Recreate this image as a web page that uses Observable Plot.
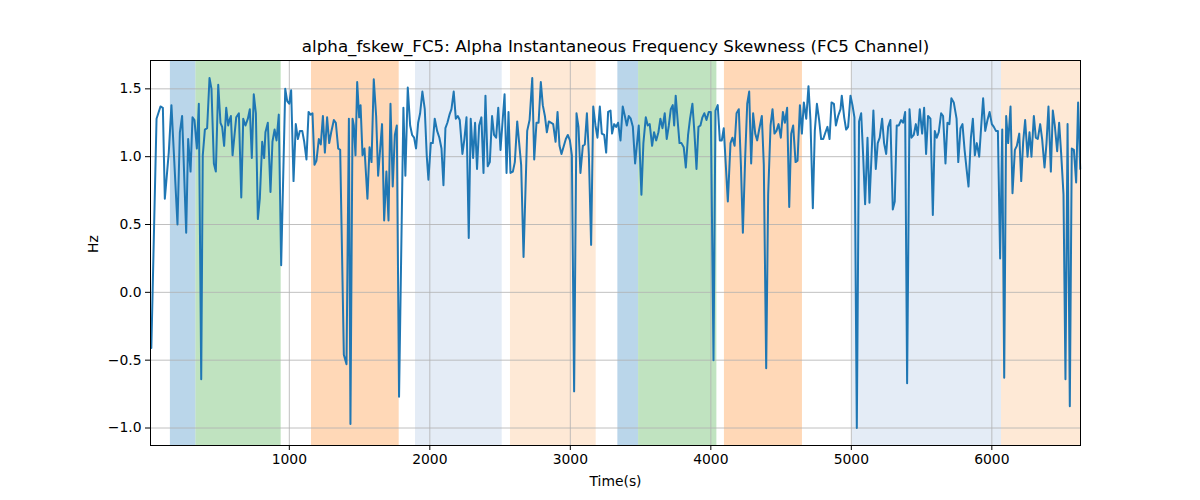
<!DOCTYPE html>
<html>
<head>
<meta charset="utf-8">
<script src="https://cdn.jsdelivr.net/npm/d3@7"></script>
<script src="https://cdn.jsdelivr.net/npm/@observablehq/plot@0.6"></script>
<style>
  body { margin: 0; background: white; }
</style>
</head>
<body>
<div id="grafico"></div>
<script>
// tiempos (s)
const time = [
  18, 55, 83, 100, 114, 142, 161, 204, 221, 237, 266, 280, 297, 311, 325,
  342, 356, 373, 384, 399, 415, 432, 446, 463, 477, 494, 510, 522, 536, 551,
  565, 574, 584, 596, 622, 641, 658, 672, 688, 705, 719, 733, 747, 762, 776,
  790, 807, 821, 830,
  847, 866, 880, 895, 909, 925, 942, 971, 985, 999, 1013, 1030, 1046, 1061, 1075,
  1092, 1106, 1122, 1137, 1151, 1165, 1179, 1193, 1210, 1224, 1239, 1253, 1269, 1284, 1298,
  1317, 1331, 1348, 1362, 1388, 1407, 1424, 1435, 1450, 1459, 1471, 1483, 1497, 1507, 1521,
  1535, 1556, 1571, 1585, 1601, 1618, 1632,
  1660, 1675, 1691, 1706, 1720, 1736, 1751, 1765, 1781, 1812, 1826, 1843, 1860, 1874, 1888,
  1902, 1917, 1931, 1947, 1964, 1978, 1990, 2007, 2021, 2035, 2052, 2068, 2083, 2097, 2111,
  2125, 2140, 2154, 2170, 2185, 2199, 2213, 2232, 2246, 2261, 2277, 2291, 2308, 2322, 2336,
  2351, 2367, 2382, 2396, 2412, 2427, 2443, 2457,
  2472, 2487, 2503, 2517, 2532, 2546, 2560, 2574, 2591, 2605, 2622, 2650, 2667, 2693, 2710,
  2729, 2743, 2759, 2774, 2790, 2804, 2819, 2833, 2847, 2864, 2878, 2895, 2909, 2923, 2937,
  2954, 2968, 2982, 2997, 3011, 3027, 3044, 3058, 3072, 3089, 3103, 3118, 3132, 3148, 3163,
  3179, 3193, 3210, 3224, 3241, 3255, 3269, 3286,
  3297, 3312, 3326, 3340, 3357, 3373, 3388, 3402, 3416, 3430, 3445, 3461, 3475, 3487, 3506,
  3520, 3537, 3551, 3565, 3582, 3596, 3611, 3627, 3641, 3656, 3672, 3686, 3701, 3715, 3729,
  3739, 3750, 3765, 3777, 3791, 3807, 3822, 3838, 3852, 3869, 3883, 3898, 3912, 3926, 3940,
  3954, 3969, 3985, 4000, 4019, 4033, 4049, 4064, 4078, 4092,
  4121, 4140, 4154, 4169, 4183, 4199, 4214, 4228, 4245, 4259, 4273, 4287, 4301, 4316, 4330,
  4344, 4363, 4377, 4394, 4408, 4425, 4439, 4453, 4467, 4482, 4498, 4513, 4527, 4543, 4558,
  4572, 4586, 4603, 4617, 4634, 4648, 4662, 4679, 4695, 4709, 4726, 4740, 4755, 4771, 4785,
  4800, 4816, 4830, 4845, 4859, 4876, 4890, 4906, 4923,
  4932, 4949, 4963, 4977, 4994, 5008, 5022, 5039, 5055, 5070, 5084, 5098, 5115, 5129, 5143,
  5157, 5174, 5188, 5202, 5219, 5233, 5248, 5262, 5278, 5295, 5309, 5323, 5338, 5354, 5368,
  5383, 5397, 5414, 5428, 5444, 5459, 5473, 5487, 5504, 5518, 5532, 5546, 5563, 5580, 5594,
  5608, 5622, 5639, 5653, 5670, 5684, 5698, 5712, 5729,
  5749, 5761, 5777, 5791, 5806, 5820, 5834, 5851, 5865, 5879, 5893, 5910, 5924, 5938, 5953,
  5969, 5984, 6000, 6014, 6029, 6043, 6059, 6074, 6088, 6102, 6116, 6133, 6147, 6164, 6178,
  6195, 6209, 6223, 6237, 6254, 6268, 6282, 6299, 6313, 6327, 6344, 6358, 6375, 6389, 6403,
  6420, 6434, 6448, 6465, 6479, 6493, 6510, 6524, 6539, 6555, 6569, 6584, 6600, 6614, 6629
]

// sesgo de frecuencia (Hz), mismo orden que time
const hz = [
  -0.41, 1.28, 1.37, 1.36, 0.69, 1.03, 1.38, 0.50, 1.18, 1.30, 0.44, 1.13, 0.89, 1.29, 1.27,
  1.06, 1.39, -0.64, 1.01, 1.20, 1.21, 1.58, 1.50, 0.95, 0.89, 1.53, 1.25, 1.22, 1.08, 1.36,
  1.23, 1.27, 1.30, 1.01, 1.29, 1.32, 0.70, 1.28, 1.23, 1.28, 1.35, 0.99, 1.46, 1.32, 0.54,
  0.69, 1.11, 0.99, 1.18,
  1.25, 0.74, 1.11, 1.20, 1.12, 1.31, 0.20, 1.50, 1.41, 1.39, 1.49, 0.82, 1.24, 1.13, 1.19,
  1.19, 1.11, 0.98, 1.33, 1.31, 1.32, 0.94, 0.97, 1.13, 1.09, 1.30, 1.03, 1.29, 1.10, 1.18,
  1.27, 1.25, 1.06, 1.05, -0.46, -0.53, 1.28, -0.97, 1.28, 1.23, 1.01, 1.55, 1.29, 1.38, 1.01,
  1.06, 0.69, 1.07, 0.96, 1.57, 1.30, 0.86,
  1.24, 0.53, 0.89, 0.53, 1.39, 0.78, 1.16, 1.23, -0.77, 1.36, 0.86, 1.51, 1.23, 1.16, 1.14,
  1.06, 1.25, 1.32, 1.48, 1.35, 1.01, 0.83, 1.10, 1.10, 1.28, 1.19, 1.14, 1.06, 0.79, 1.21,
  1.25, 1.31, 1.35, 1.48, 1.28, 1.30, 1.27, 1.02, 1.13, 1.29, 0.40, 1.28, 0.99, 1.25, 0.91,
  1.23, 1.29, 0.88, 1.45, 0.93, 0.96, 1.30, 1.16,
  1.14, 1.36, 1.05, 1.25, 1.46, 0.88, 1.33, 0.88, 0.89, 0.96, 1.26, 0.94, 0.26, 1.19, 1.27,
  1.58, 0.98, 1.25, 1.25, 1.55, 1.38, 1.30, 1.18, 1.26, 1.25, 1.24, 1.11, 1.33, 1.08, 1.02,
  1.08, 1.13, 1.16, 1.12, 1.01, -0.73, 1.32, 1.22, 0.88, 1.08, 1.09, 1.32, 1.01, 0.35, 1.37,
  1.23, 1.14, 1.37, 1.17, 1.16, 1.03, 1.33, 1.34,
  1.17, 1.24, 1.22, 1.25, 1.12, 1.37, 1.30, 1.23, 1.30, 1.28, 1.22, 0.95, 1.10, 1.23, 0.72,
  1.10, 1.29, 1.23, 1.24, 1.08, 1.18, 1.12, 1.18, 1.28, 1.21, 1.32, 1.13, 1.23, 1.35, 1.38,
  1.23, 1.45, 1.25, 1.10, 1.10, 1.07, 0.92, 1.16, 1.28, 1.39, 1.18, 0.91, 1.22, 1.23, 1.29,
  1.32, 1.27, 1.33, 1.33, -0.50, 1.34, 1.38, 1.12, 1.12, 1.21,
  0.67, 1.10, 1.14, 1.08, 1.32, 1.35, 0.94, 0.44, 1.01, 1.39, 1.48, 0.95, 1.32, 1.17, 1.12,
  1.20, 1.30, 0.94, -0.56, 0.72, 1.23, 1.35, 1.17, 1.19, 1.24, 1.14, 1.33, 1.25, 1.36, 0.63,
  1.17, 1.23, 0.96, 0.97, 1.38, 1.17, 1.40, 1.28, 1.52, 1.27, 0.62, 1.19, 1.39, 1.27, 1.13,
  1.13, 1.18, 1.22, 1.13, 1.40, 1.39, 1.23, 1.30, 1.35,
  1.45, 1.29, 1.20, 1.22, 1.45, 1.38, 1.29, -1.00, 1.26, 1.32, 1.01, 0.65, 1.14, 0.66, 0.99,
  1.34, 0.91, 1.10, 1.14, 1.28, 1.10, 1.02, 1.22, 1.27, 0.61, 0.67, 1.23, 1.23, 1.27, 1.25,
  1.33, -0.67, 1.35, 1.14, 1.16, 1.24, 1.16, 1.35, 1.17, 1.36, 1.02, 1.30, 1.28, 0.57, 1.19,
  1.14, 1.18, 1.32, 1.30, 0.95, 1.25, 1.24, 1.43, 1.40,
  1.28, 0.96, 1.21, 1.24, 1.05, 0.91, 0.78, 1.14, 1.28, 1.01, 1.10, 1.00, 1.22, 1.43, 1.19,
  1.27, 1.33, 1.24, 1.22, 1.19, 1.19, 0.25, 1.20, -0.63, 1.30, 1.10, 1.37, 0.73, 1.05, 1.08,
  1.17, 0.82, 1.11, 1.27, 1.00, 1.18, 1.00, 1.30, 1.14, 1.13, 1.24, 1.13, 0.92, 1.10, 1.37,
  0.89, 1.34, 1.23, 1.04, 1.25, 1.03, 0.72, -0.64, 1.24, -0.84, 1.06, 1.05, 0.81, 1.40, 0.91
]

// franjas de estado (inicio, fin, tipo)
const bandStart = [154, 337, 1158, 1898, 2574, 3340, 3487, 4097, 5006, 6069]
const bandEnd   = [337, 942, 1782, 2515, 3184, 3487, 4043, 4652, 6069, 6631]
const bandKind  = ['A', 'B', 'C', 'D', 'E', 'A', 'B', 'C', 'D', 'E']

const xTicks = [1000, 2000, 3000, 4000, 5000, 6000]
const yTicks = [-1.0, -0.5, 0.0, 0.5, 1.0, 1.5]

const titulo = 'alpha_fskew_FC5: Alpha Instantaneous Frequency Skewness (FC5 Channel)'

const serie = time.map((t, i) => ({ t: t, v: hz[i] }))
const franjas = bandStart.map((s, i) => ({ x1: s, x2: bandEnd[i], kind: bandKind[i] }))

const fmtMenos = d => d3.format('.1f')(d).replace('-', '\u2212')

let chart = Plot.plot({
  width: 1200,
  height: 500,
  marginLeft: 150,
  marginRight: 120,
  marginTop: 60,
  marginBottom: 55,
  style: { fontFamily: 'DejaVu Sans', fontSize: '13.9px', background: 'white', color: 'black' },

  x: { domain: [12, 6631] },
  y: { domain: [-1.129, 1.709] },
  color: {
    domain: ['A', 'B', 'C', 'D', 'E'],
    range: ['#bad6ea', '#c0e3c0', '#ffd8b7', '#e4ecf6', '#fee9d6'],
  },

  marks: [
    Plot.rect(franjas, { x1: 'x1', x2: 'x2', fill: 'kind' }),
    Plot.ruleX(franjas, { x: 'x1', stroke: 'kind', strokeWidth: 1, filter: d => d.kind !== 'D' }),
    Plot.gridX(xTicks, { stroke: '#b0b0b0', strokeOpacity: 1, strokeWidth: 0.8 }),
    Plot.gridY(yTicks, { stroke: '#b0b0b0', strokeOpacity: 1, strokeWidth: 0.8 }),

    Plot.line(serie, { x: 't', y: 'v', stroke: '#1f77b4', strokeWidth: 2 }),

    Plot.axisX(xTicks, { tickFormat: d => String(d), tickSize: 5, tickPadding: 4, label: null }),
    Plot.axisY(yTicks, { tickFormat: fmtMenos, tickSize: 5, tickPadding: 4, label: null }),
    Plot.frame({ stroke: 'black', strokeWidth: 1 }),

    Plot.text([titulo], { frameAnchor: 'top', lineAnchor: 'middle', dy: -14, fontSize: 16.7, fill: 'black' }),
    Plot.text(['Time(s)'], { frameAnchor: 'bottom', lineAnchor: 'middle', dy: 36, fontSize: 13.9, fill: 'black' }),
    Plot.text(['Hz'], { frameAnchor: 'left', dx: -57, rotate: -90, fontSize: 13.9, fill: 'black' }),
  ],
})

d3.select('#grafico').append(() => chart)
</script>
</body>
</html>
